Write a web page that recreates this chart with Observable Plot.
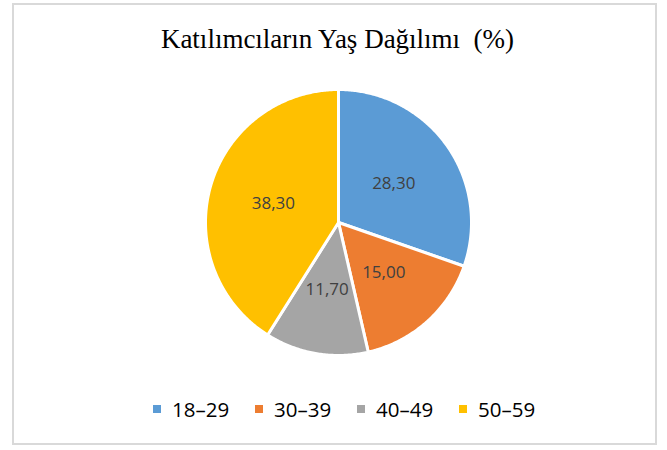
<!DOCTYPE html>
<html>
<head>
<meta charset="utf-8">
<script src="https://cdn.jsdelivr.net/npm/d3@7"></script>
<script src="https://cdn.jsdelivr.net/npm/@observablehq/plot@0.6"></script>
<style>
  html, body { margin: 0; padding: 0; background: #fff; }
  #wrap { position: relative; width: 667px; height: 450px; overflow: hidden; }
  #frame { position: absolute; left: 12px; top: 3px; width: 645px; height: 442px; border: 2px solid #d9d9d9; box-sizing: border-box; }
  #title { position: absolute; left: 0; width: 675px; top: 26px; text-align: center; font-family: "Liberation Serif", "Times New Roman", serif; font-size: 27px; line-height: 27px; color: #000; white-space: pre; }
  #chart { position: absolute; left: 188px; top: 72px; }
  #legend { position: absolute; left: 153px; top: 399px; display: flex; align-items: center; height: 20px; }
  .item { display: flex; align-items: center; width: 102px; }
  .sw { width: 8px; height: 8px; margin-right: 11px; flex: none; }
  .lab { font-family: "Open Sans", sans-serif; font-size: 20.5px; line-height: 20px; color: #000; white-space: nowrap; }
</style>
</head>
<body>
<div id="wrap">
  <div id="frame"></div>
  <div id="title"></div>
  <div id="chart"></div>
  <div id="legend"></div>
</div>
<script>
const title = "Katılımcıların Yaş Dağılımı  (%)";
const categories = ["18–29", "30–39", "40–49", "50–59"];
const values = [28.3, 15.0, 11.7, 38.3];
const colors = ["#5B9BD5", "#ED7D31", "#A5A5A5", "#FFC000"];

document.getElementById("title").textContent = title;

const total = d3.sum(values);
const slices = [];
const labels = [];
let acc = 0;
categories.forEach((c, i) => {
  const a0 = acc / total * 2 * Math.PI;
  acc += values[i];
  const a1 = acc / total * 2 * Math.PI;
  const n = Math.max(2, Math.ceil((a1 - a0) / 0.01));
  slices.push({cat: c, x: 0, y: 0});
  for (let k = 0; k <= n; k++) {
    const a = a0 + (a1 - a0) * k / n;
    slices.push({cat: c, x: Math.sin(a), y: Math.cos(a)});
  }
  slices.push({cat: c, x: 0, y: 0});
  const am = (a0 + a1) / 2;
  const lr = 0.51;
  labels.push({cat: c, x: lr * Math.sin(am), y: lr * Math.cos(am), text: values[i].toFixed(2).replace(".", ",")});
});

const plot = Plot.plot({
  width: 300,
  height: 300,
  margin: 17,
  x: {domain: [-1, 1], axis: null},
  y: {domain: [-1, 1], axis: null},
  color: {domain: categories, range: colors},
  marks: [
    Plot.line(slices, {x: "x", y: "y", z: "cat", fill: "cat", stroke: "white", strokeWidth: 3, strokeLinejoin: "round"}),
    Plot.text(labels, {x: "x", y: "y", text: "text", fill: "#404040", fontSize: 17, fontFamily: "Open Sans, sans-serif"})
  ]
});
document.getElementById("chart").appendChild(plot);

const legend = document.getElementById("legend");
categories.forEach((c, i) => {
  const item = document.createElement("div");
  item.className = "item";
  const sw = document.createElement("div");
  sw.className = "sw";
  sw.style.background = colors[i];
  const lab = document.createElement("span");
  lab.className = "lab";
  lab.textContent = c;
  item.appendChild(sw);
  item.appendChild(lab);
  legend.appendChild(item);
});
</script>
</body>
</html>
